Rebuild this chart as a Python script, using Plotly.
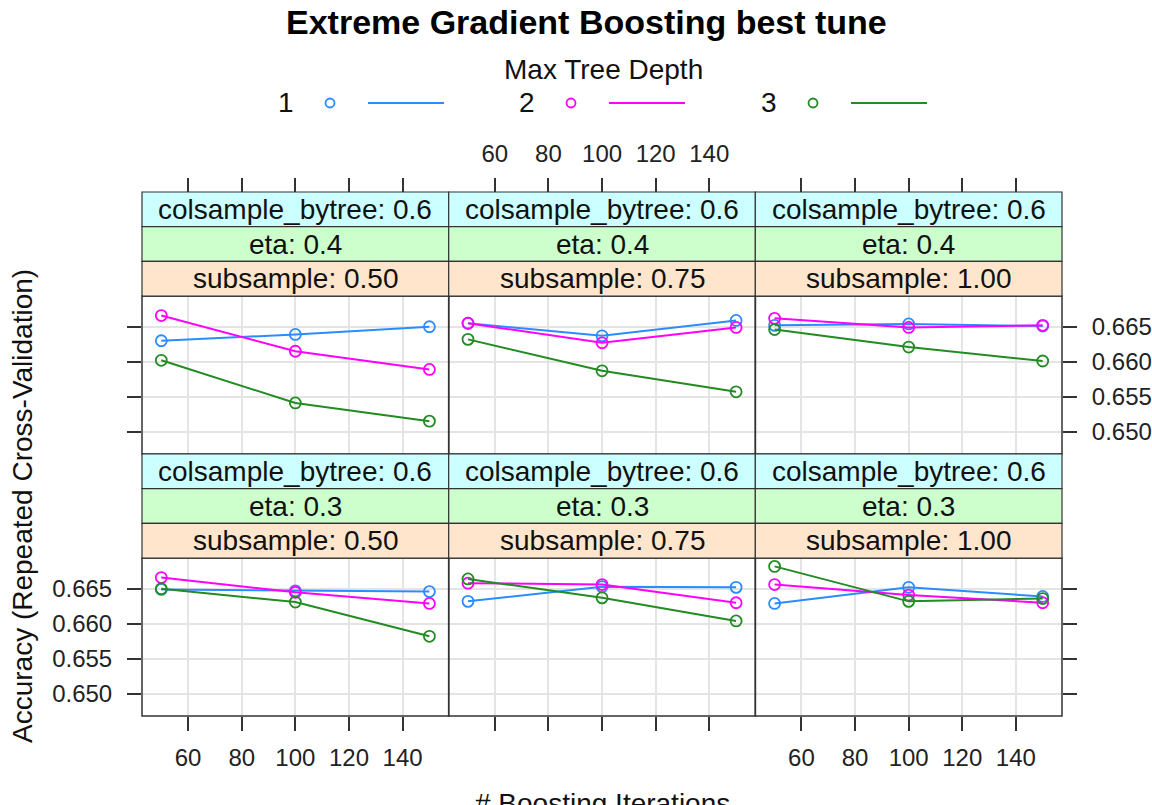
import plotly.graph_objects as go

# ---- data -----------------------------------------------------------------
boost_iter = [50, 100, 150]
depth_labels = ["1", "2", "3"]
depth_colors = ["#2b8cff", "#ff00ff", "#228b22"]

colsample_level = "0.6"
eta_levels = ["0.4", "0.3"]                 # top row, bottom row
subsample_levels = ["0.50", "0.75", "1.00"]  # columns

# accuracy per panel: rows = max tree depth 1, 2, 3 ; columns = boosting iterations
acc_eta04_sub050 = [[0.6630, 0.6639, 0.6650], [0.6666, 0.6615, 0.6589], [0.6602, 0.6541, 0.6515]]
acc_eta04_sub075 = [[0.6655, 0.6637, 0.6659], [0.6655, 0.6627, 0.6649], [0.6632, 0.6587, 0.6557]]
acc_eta04_sub100 = [[0.6652, 0.6654, 0.6651], [0.6662, 0.6649, 0.6652], [0.6646, 0.6621, 0.6601]]
acc_eta03_sub050 = [[0.6649, 0.6647, 0.6646], [0.6666, 0.6645, 0.6629], [0.6650, 0.6631, 0.6582]]
acc_eta03_sub075 = [[0.6632, 0.6653, 0.6652], [0.6658, 0.6656, 0.6630], [0.6664, 0.6637, 0.6604]]
acc_eta03_sub100 = [[0.6629, 0.6652, 0.6639], [0.6656, 0.6641, 0.6630], [0.6682, 0.6632, 0.6636]]

panel_data = [
    [acc_eta04_sub050, acc_eta04_sub075, acc_eta04_sub100],
    [acc_eta03_sub050, acc_eta03_sub075, acc_eta03_sub100],
]

x_ticks = [60, 80, 100, 120, 140]
y_ticks = [0.650, 0.655, 0.660, 0.665]
x_range = [42.8, 157.2]
y_range = [0.6468, 0.6694]

# ---- geometry (pixels) -----------------------------------------------------
W, H = 1152, 805
FONT = "Liberation Sans, Arial, sans-serif"


def fx(p):
    return p / W


def fy(p):
    return 1 - p / H


col_left = [142.0, 448.7, 755.3]
col_w = 306.7
strip_h = 34.7
row_strip_top = [192.0, 454.0]
row_panel = [(296.0, 454.0), (558.0, 716.0)]

strip_colors = ["#ccffff", "#ccffcc", "#ffe5cc"]  # colsample, eta, subsample

fig = go.Figure()
shapes = []
annotations = []
layout_axes = {}

tick_font = dict(family=FONT, size=24, color="#222222")

idx = 0
for r in range(2):
    for c in range(3):
        idx += 1
        xa = "x" if idx == 1 else f"x{idx}"
        ya = "y" if idx == 1 else f"y{idx}"
        xkey = "xaxis" if idx == 1 else f"xaxis{idx}"
        ykey = "yaxis" if idx == 1 else f"yaxis{idx}"
        x0, x1 = col_left[c], col_left[c] + col_w
        p_top, p_bot = row_panel[r]

        xaxis = dict(
            domain=[fx(x0), fx(x1)], range=x_range, tickvals=x_ticks,
            showgrid=True, gridcolor="#e4e4e4", gridwidth=2, zeroline=False,
            showline=False, ticks="outside", ticklen=14, tickwidth=1.5,
            tickcolor="#333333", tickfont=tick_font, ticklabelstandoff=6,
        )
        if r == 0:
            xaxis.update(anchor="free", position=fy(row_strip_top[0]), side="top",
                         showticklabels=(c == 1))
        else:
            xaxis.update(anchor=ya, side="bottom", showticklabels=(c != 1))

        yaxis = dict(
            domain=[fy(p_bot), fy(p_top)], range=y_range, tickvals=y_ticks,
            tickformat=".3f", anchor=xa, showgrid=True, gridcolor="#e4e4e4",
            gridwidth=2, zeroline=False, showline=False, tickfont=tick_font,
            ticklen=14, tickwidth=1.5, tickcolor="#333333", ticklabelstandoff=10,
        )
        if c == 0:
            yaxis.update(side="left", ticks="outside", showticklabels=(r == 1))
        elif c == 2:
            yaxis.update(side="right", ticks="outside", showticklabels=(r == 0))
        else:
            yaxis.update(ticks="", showticklabels=False)

        layout_axes[xkey] = xaxis
        layout_axes[ykey] = yaxis

        # series: depth 1, 2, 3
        series = panel_data[r][c]
        for d, vals in enumerate(series):
            fig.add_trace(go.Scatter(
                x=boost_iter, y=vals, xaxis=xa, yaxis=ya, mode="lines+markers",
                line=dict(color=depth_colors[d], width=2),
                marker=dict(symbol="circle-open", size=11, color=depth_colors[d],
                            line=dict(width=1.8, color=depth_colors[d])),
                showlegend=False, name=depth_labels[d],
            ))

        # panel border
        shapes.append(dict(type="rect", xref="paper", yref="paper",
                           x0=fx(x0), x1=fx(x1), y0=fy(p_bot), y1=fy(p_top),
                           line=dict(color="#333333", width=1.5), layer="above"))

        # strips: colsample_bytree, eta, subsample
        strip_texts = [f"colsample_bytree: {colsample_level}",
                       f"eta: {eta_levels[r]}",
                       f"subsample: {subsample_levels[c]}"]
        for s in range(3):
            st = row_strip_top[r] + s * strip_h
            sb = st + strip_h
            shapes.append(dict(type="rect", xref="paper", yref="paper",
                               x0=fx(x0), x1=fx(x1), y0=fy(sb), y1=fy(st),
                               fillcolor=strip_colors[s],
                               line=dict(color="#333333", width=1.2), layer="above"))
            annotations.append(dict(text=strip_texts[s], xref="paper", yref="paper",
                                    x=fx((x0 + x1) / 2), y=fy((st + sb) / 2),
                                    showarrow=False, xanchor="center", yanchor="middle",
                                    font=dict(family=FONT, size=28, color="#111111")))

# ---- title, axis titles ------------------------------------------------------
annotations.append(dict(text="<b>Extreme Gradient Boosting best tune</b>",
                        xref="paper", yref="paper", x=fx(586), y=fy(22),
                        showarrow=False, xanchor="center", yanchor="middle",
                        font=dict(family=FONT, size=34, color="#000000")))
annotations.append(dict(text="Accuracy (Repeated Cross-Validation)",
                        xref="paper", yref="paper", x=fx(22), y=fy(506),
                        showarrow=False, xanchor="center", yanchor="middle",
                        textangle=-90,
                        font=dict(family=FONT, size=28, color="#111111")))
annotations.append(dict(text="# Boosting Iterations",
                        xref="paper", yref="paper", x=fx(602), y=fy(786),
                        showarrow=False, xanchor="center", yanchor="top",
                        font=dict(family=FONT, size=28, color="#111111")))

# ---- key: Max Tree Depth ---------------------------------------------------------
annotations.append(dict(text="Max Tree Depth", xref="paper", yref="paper",
                        x=fx(603), y=fy(70), showarrow=False,
                        xanchor="center", yanchor="middle",
                        font=dict(family=FONT, size=28, color="#111111")))
key_text_x = [286, 527, 769]
key_y = 103
for d in range(3):
    tx = key_text_x[d]
    annotations.append(dict(text=depth_labels[d], xref="paper", yref="paper",
                            x=fx(tx), y=fy(key_y), showarrow=False,
                            xanchor="center", yanchor="middle",
                            font=dict(family=FONT, size=28, color="#111111")))
    cx = tx + 44
    shapes.append(dict(type="circle", xref="paper", yref="paper",
                       x0=fx(cx - 4.5), x1=fx(cx + 4.5),
                       y0=fy(key_y + 4.5), y1=fy(key_y - 4.5),
                       line=dict(color=depth_colors[d], width=1.8)))
    shapes.append(dict(type="line", xref="paper", yref="paper",
                       x0=fx(tx + 82), x1=fx(tx + 158), y0=fy(key_y), y1=fy(key_y),
                       line=dict(color=depth_colors[d], width=2)))

fig.update_layout(
    width=W, height=H, margin=dict(l=0, r=0, t=0, b=0),
    paper_bgcolor="white", plot_bgcolor="white",
    shapes=shapes, annotations=annotations, showlegend=False,
    font=dict(family=FONT),
    **layout_axes,
)

fig.write_html("out.html")
